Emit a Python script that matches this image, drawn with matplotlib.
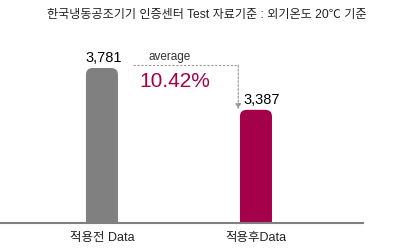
import matplotlib
matplotlib.use("Agg")
import matplotlib.pyplot as plt
from matplotlib.patches import FancyBboxPatch

# data
categories = ["적용전 Data", "적용후Data"]
values = [3781, 3387]
value_labels = ["3,781", "3,387"]
bar_colors = ["#808080", "#a5004a"]
title = "한국냉동공조기기 인증센터 Test 자료기준 : 외기온도 20℃ 기준"
diff_label = "10.42%"

fonts = ["Liberation Sans Narrow", "Liberation Sans", "Noto Sans CJK KR", "DejaVu Sans"]
plt.rcParams["font.family"] = fonts

fig = plt.figure(figsize=(3.99, 2.52), dpi=100)
# axes: x 0..363 px, baseline at y=223 px, top at y=0
ax = fig.add_axes([0, (252 - 223) / 252, 363 / 399, 223 / 252])
ymin = 2320
ymax = ymin + 223 / 0.1061
ax.set_ylim(ymin, ymax)
ax.set_xlim(-0.662, 1.695)
ax.axis("off")

bw = 0.208
for i, (v, c) in enumerate(zip(values, bar_colors)):
    patch = FancyBboxPatch((i - bw / 2, ymin - 300), bw, v - ymin + 300,
                           boxstyle="round,pad=0,rounding_size=0.045",
                           mutation_aspect=1400, fc=c, ec="none")
    ax.add_patch(patch)

# baseline
ax.axhline(ymin, color="#808080", lw=1.5, clip_on=False)

# value labels
ax.text(0.01, values[0] + 30, value_labels[0], ha="center", va="bottom", fontsize=10.5)
ax.text(1.04, values[1] + 30, value_labels[1], ha="center", va="bottom", fontsize=10.5)

# average arrow
y_line = values[0] + 28
x0, x1 = 0.20, 0.885
ax.plot([x0, x1], [y_line, y_line], color="#999999", lw=0.8, ls=(0, (2, 1.5)))
ax.annotate("", xy=(x1, values[1] + 5), xytext=(x1, y_line),
            arrowprops=dict(arrowstyle="-|>", color="#999999", lw=0.8, ls=(0, (2, 1.5)),
                            mutation_scale=8, shrinkA=0, shrinkB=0))
ax.text((x0 + x1) / 2 - 0.1, y_line + 20, "average", ha="center", va="bottom",
        fontsize=8.5, color="#333333")
ax.text(0.245, y_line - 160, diff_label, ha="left", va="center", fontsize=15,
        color="#a5004a")

# category labels
for i, lab in enumerate(categories):
    ax.text(i, ymin - 145, lab, ha="center", va="center", fontsize=9, color="#222222",
            clip_on=False)

fig.text(207 / 399, 1 - 15 / 252, title, ha="center", va="center", fontsize=8.7,
         color="#222222")

fig.savefig("out.png", dpi=100)
